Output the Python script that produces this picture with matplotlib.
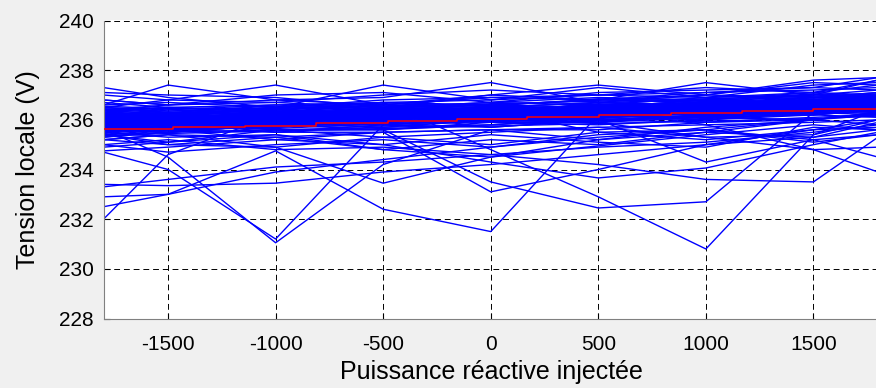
import matplotlib
matplotlib.use("Agg")
import matplotlib.pyplot as plt

plt.rcParams['font.family'] = ['Liberation Sans', 'DejaVu Sans']
plt.rcParams['axes.unicode_minus'] = False

# injected reactive power at each measurement point
x_pts = [-1800, -1500, -1000, -500, 0, 500, 1000, 1500, 1800]

# main band of voltage curves
band = [
    [235.9, 236.0, 236.1, 236.0, 236.2, 236.3, 236.4, 236.5, 236.6],
    [236.2, 236.1, 236.3, 236.2, 236.4, 236.5, 236.5, 236.7, 236.8],
    [235.6, 235.8, 235.7, 235.9, 236.0, 236.1, 236.3, 236.2, 236.4],
    [236.4, 236.5, 236.3, 236.6, 236.5, 236.7, 236.8, 236.9, 237.0],
    [235.8, 235.6, 235.9, 236.1, 235.9, 236.2, 236.1, 236.4, 236.5],
    [236.0, 236.3, 236.2, 236.4, 236.3, 236.4, 236.6, 236.6, 236.9],
    [235.5, 235.7, 235.9, 235.8, 236.1, 236.0, 236.2, 236.4, 236.3],
    [236.3, 236.2, 236.5, 236.4, 236.6, 236.8, 236.7, 236.9, 237.1],
    [236.1, 235.9, 236.0, 236.3, 236.2, 236.3, 236.5, 236.7, 236.6],
    [235.7, 235.9, 235.8, 236.0, 236.2, 236.4, 236.3, 236.5, 236.7],
    [236.5, 236.4, 236.6, 236.5, 236.7, 236.6, 236.9, 237.0, 237.2],
    [235.4, 235.6, 235.5, 235.8, 235.7, 236.0, 235.9, 236.1, 236.2],
    [236.6, 236.7, 236.5, 236.8, 236.9, 237.0, 237.1, 237.2, 237.3],
    [235.9, 236.1, 236.2, 236.1, 236.4, 236.2, 236.6, 236.5, 236.8],
    [236.2, 236.0, 236.4, 236.6, 236.4, 236.6, 236.7, 236.8, 236.9],
    [235.6, 235.5, 235.8, 235.9, 236.0, 235.9, 236.2, 236.3, 236.5],
    [236.0, 236.2, 236.0, 236.2, 236.1, 236.5, 236.4, 236.6, 236.7],
    [235.3, 235.5, 235.6, 235.6, 235.9, 235.8, 236.0, 236.2, 236.1],
    [236.4, 236.6, 236.7, 236.5, 236.7, 236.9, 236.8, 237.1, 237.0],
    [235.8, 235.7, 236.0, 235.9, 236.1, 236.3, 236.2, 236.4, 236.6],
    [236.1, 236.4, 236.3, 236.5, 236.6, 236.5, 236.8, 236.7, 237.0],
    [235.5, 235.8, 235.6, 235.7, 235.8, 236.1, 236.0, 236.3, 236.2],
    [236.3, 236.1, 236.2, 236.4, 236.5, 236.4, 236.6, 236.8, 236.8],
    [235.9, 235.8, 236.1, 236.2, 236.0, 236.3, 236.4, 236.3, 236.6],
    [236.7, 236.5, 236.6, 236.7, 236.8, 237.0, 236.9, 237.1, 237.4],
    [235.2, 235.4, 235.3, 235.5, 235.6, 235.7, 235.8, 235.9, 236.0],
    [236.0, 235.8, 236.1, 236.0, 236.3, 236.2, 236.5, 236.4, 236.5],
    [236.2, 236.3, 236.4, 236.3, 236.2, 236.6, 236.5, 236.6, 236.8],
    [235.7, 235.6, 235.7, 236.0, 235.9, 235.9, 236.1, 236.2, 236.4],
    [236.5, 236.3, 236.5, 236.7, 236.6, 236.8, 237.0, 236.9, 237.1],
    [235.8, 236.0, 235.9, 235.7, 236.0, 236.1, 236.3, 236.5, 236.3],
    [236.1, 236.2, 236.1, 236.3, 236.5, 236.7, 236.6, 236.8, 237.0],
    [235.6, 235.9, 236.0, 236.1, 236.2, 236.2, 236.4, 236.4, 236.6],
    [236.4, 236.3, 236.2, 236.5, 236.4, 236.5, 236.7, 237.0, 236.9],
    [235.4, 235.5, 235.8, 235.6, 235.8, 236.0, 236.1, 236.0, 236.3],
    [236.8, 236.6, 236.8, 236.6, 237.0, 236.8, 237.1, 237.3, 237.2],
    [235.8, 236.1, 236.0, 236.2, 236.3, 236.3, 236.5, 236.6, 236.6],
    [236.1, 235.9, 236.2, 236.1, 236.4, 236.5, 236.4, 236.7, 236.9],
    [235.7, 235.9, 236.1, 236.3, 236.2, 236.4, 236.6, 236.5, 236.7],
    [236.3, 236.0, 236.0, 236.3, 236.5, 236.3, 236.7, 236.8, 236.6],
    [235.9, 236.2, 236.3, 236.1, 236.3, 236.6, 236.4, 236.6, 236.8],
    [236.0, 235.8, 236.1, 236.4, 236.2, 236.5, 236.6, 236.9, 236.7],
    [235.6, 235.9, 235.9, 236.0, 236.4, 236.2, 236.5, 236.6, 236.9],
    [236.2, 236.3, 236.0, 236.2, 236.3, 236.6, 236.5, 236.7, 236.6],
    [235.8, 236.0, 236.3, 236.2, 236.1, 236.4, 236.7, 236.5, 236.8],
    [236.1, 236.1, 235.9, 236.4, 236.4, 236.3, 236.5, 236.8, 236.7],
    [235.9, 235.7, 236.2, 236.0, 236.5, 236.5, 236.3, 236.6, 236.9],
    [236.3, 236.2, 236.4, 236.3, 236.2, 236.7, 236.6, 236.7, 236.6],
    [235.7, 236.1, 236.0, 236.3, 236.3, 236.2, 236.6, 236.9, 236.8],
    [236.0, 236.0, 236.2, 236.1, 236.6, 236.4, 236.5, 236.5, 236.7],
    [235.8, 235.8, 236.1, 236.5, 236.3, 236.5, 236.8, 236.6, 236.9],
    [236.2, 236.1, 235.8, 236.2, 236.4, 236.6, 236.4, 236.8, 236.7],
    [235.6, 236.0, 236.2, 236.0, 236.2, 236.3, 236.7, 236.7, 236.5],
    [236.1, 235.8, 236.0, 236.3, 236.5, 236.4, 236.6, 236.6, 236.8],
    [235.9, 236.2, 236.1, 236.2, 236.1, 236.6, 236.5, 236.9, 236.9],
    [236.4, 236.0, 236.3, 236.4, 236.3, 236.5, 236.7, 236.7, 236.6],
    [235.5, 235.7, 235.8, 236.0, 236.1, 236.0, 236.2, 236.3, 236.4],
    [235.6, 235.6, 235.9, 235.8, 236.0, 236.2, 236.1, 236.4, 236.3],
    [235.5, 235.8, 235.7, 236.0, 235.9, 236.1, 236.3, 236.2, 236.5],
    [235.7, 235.5, 235.8, 235.9, 236.1, 235.9, 236.2, 236.4, 236.3],
    [235.65, 235.85, 235.95, 236.05, 236.15, 236.25, 236.35, 236.55, 236.65],
    [235.95, 236.15, 236.05, 236.25, 236.35, 236.45, 236.55, 236.65, 236.75],
    [236.25, 236.05, 236.15, 236.35, 236.25, 236.55, 236.45, 236.75, 236.85],
    [235.75, 235.65, 235.85, 236.15, 236.05, 236.35, 236.25, 236.45, 236.55],
    [236.05, 236.25, 236.35, 236.15, 236.45, 236.35, 236.65, 236.55, 236.95],
    [235.55, 235.75, 236.05, 235.95, 236.25, 236.15, 236.45, 236.35, 236.45],
    [236.35, 236.25, 236.05, 236.45, 236.35, 236.65, 236.55, 236.85, 236.75],
    [235.85, 236.05, 235.75, 236.05, 236.15, 236.05, 236.35, 236.65, 236.45],
    [236.15, 235.95, 236.25, 236.25, 236.55, 236.45, 236.75, 236.65, 236.85],
    [235.45, 235.65, 235.65, 235.85, 235.95, 236.15, 236.15, 236.35, 236.25],
    [236.45, 236.35, 236.55, 236.45, 236.65, 236.75, 236.85, 236.95, 237.05],
    [235.65, 235.95, 235.85, 235.95, 236.05, 236.25, 236.05, 236.25, 236.55],
    [236.05, 235.85, 236.15, 236.35, 236.15, 236.45, 236.55, 236.45, 236.65],
    [235.75, 236.05, 236.15, 235.85, 236.25, 236.05, 236.35, 236.55, 236.35],
    [236.25, 236.15, 236.35, 236.55, 236.45, 236.35, 236.65, 236.75, 236.95],
    [235.55, 235.55, 235.75, 235.75, 235.95, 235.95, 236.15, 236.25, 236.45],
    [235.95, 235.75, 235.95, 236.15, 236.35, 236.15, 236.45, 236.35, 236.75],
    [236.15, 236.25, 236.25, 236.05, 236.25, 236.55, 236.35, 236.65, 236.65],
    [235.85, 235.95, 236.15, 236.25, 236.05, 236.35, 236.65, 236.45, 236.55],
    [235.35, 235.45, 235.55, 235.65, 235.75, 235.85, 235.95, 236.05, 236.15],
    [236.55, 236.45, 236.45, 236.65, 236.55, 236.85, 236.75, 237.05, 236.95],
    [235.75, 235.85, 235.95, 236.25, 236.35, 236.45, 236.25, 236.55, 236.65],
]

# curves above the band
upper = [
    [236.6, 237.4, 236.8, 236.9, 237.5, 236.7, 237.0, 237.6, 237.7],
    [237.0, 236.8, 237.4, 236.6, 236.9, 236.8, 237.5, 237.0, 237.6],
    [237.3, 236.9, 236.5, 237.4, 236.8, 237.3, 236.9, 237.4, 237.5],
    [236.5, 236.8, 236.7, 237.0, 237.2, 237.0, 237.3, 237.1, 237.6],
    [237.1, 237.0, 236.9, 236.5, 237.0, 237.4, 237.0, 237.5, 237.4],
    [236.8, 236.6, 237.0, 237.1, 236.7, 237.1, 237.2, 237.3, 237.7],
]

# curves just below the band
lower = [
    [235.2, 235.4, 234.9, 235.3, 235.0, 235.5, 235.2, 235.6, 235.7],
    [234.9, 235.1, 235.4, 234.8, 235.2, 235.0, 235.5, 235.3, 235.9],
    [235.0, 234.7, 235.0, 235.2, 234.9, 235.4, 235.6, 235.1, 235.4],
    [234.75, 234.9, 235.2, 235.0, 235.4, 235.1, 234.9, 235.7, 235.6],
    [235.4, 235.1, 235.6, 235.3, 235.5, 235.7, 235.3, 235.4, 236.0],
    [235.3, 235.6, 235.2, 235.5, 235.6, 235.2, 235.7, 236.0, 235.8],
]

# curves with strong dips
dips = [
    [232.0, 234.6, 236.2, 236.0, 236.3, 236.1, 236.4, 236.6, 236.5],
    [232.5, 233.0, 234.75, 232.4, 231.5, 236.2, 236.0, 236.4, 236.6],
    [235.4, 235.0, 234.9, 233.45, 234.5, 235.2, 235.5, 236.0, 236.3],
    [235.8, 236.0, 235.6, 235.6, 233.5, 232.45, 232.7, 236.3, 236.5],
    [236.2, 235.9, 235.5, 235.5, 233.1, 234.0, 235.0, 235.6, 236.0],
    [235.5, 235.3, 235.4, 235.0, 234.3, 233.66, 234.06, 235.0, 235.5],
    [235.2, 235.0, 235.3, 234.8, 234.5, 234.95, 235.4, 235.8, 235.6],
    [236.3, 236.5, 236.4, 236.7, 234.8, 232.9, 230.8, 235.4, 236.4],
    [235.0, 235.2, 234.8, 234.9, 234.6, 234.2, 233.6, 233.5, 235.3],
    [236.0, 236.2, 235.9, 236.3, 236.1, 236.4, 235.8, 234.8, 233.9],
    [233.4, 233.35, 233.45, 233.9, 234.2, 234.6, 235.0, 235.3, 235.6],
    [233.3, 233.6, 234.1, 234.3, 234.6, 234.9, 235.1, 235.5, 235.8],
    [232.9, 233.0, 233.9, 234.4, 234.9, 235.3, 235.6, 236.0, 236.2],
    [234.7, 234.0, 231.2, 235.8, 236.0, 236.2, 236.1, 236.4, 236.6],
    [235.6, 234.5, 231.05, 234.2, 235.6, 235.6, 235.9, 236.0, 236.3],
    [236.1, 235.9, 236.2, 236.0, 236.3, 235.9, 235.3, 234.8, 234.9],
    [235.9, 236.1, 235.8, 236.2, 235.7, 236.0, 234.3, 235.2, 235.4],
    [236.4, 236.2, 236.5, 236.0, 236.4, 235.5, 235.6, 235.2, 234.5],
]

# mean curve (red staircase)
mean_x = [-1800, -1477, -1141, -810, -478, -156, 170, 501, 837, 1168, 1500, 1800]
mean_y = [235.65, 235.72, 235.77, 235.86, 235.94, 236.03, 236.12, 236.2, 236.28,
          236.35, 236.44, 236.44]

fig = plt.figure(figsize=(8.76, 3.88), dpi=100, facecolor='#f0f0f0')
ax = fig.add_axes([103.5 / 876, 1 - 318.5 / 388, 774.5 / 876, 298 / 388])

for curve in dips + lower + upper + band:
    ax.plot(x_pts, curve, color='#0000ff', lw=1.0, zorder=2)

ax.plot(mean_x, mean_y, color='#ff0000', lw=1.1, drawstyle='steps-post',
        zorder=5)

ax.set_xlim(-1800, 1800)
ax.set_ylim(228, 240)
ax.set_xticks([-1500, -1000, -500, 0, 500, 1000, 1500])
ax.set_yticks([228, 230, 232, 234, 236, 238, 240])
ax.grid(True, color='k', lw=0.7, linestyle=(0, (6, 4)))
ax.tick_params(axis='both', direction='in', length=4, labelsize=15, color='k')
ax.tick_params(axis='x', pad=12)
ax.tick_params(axis='y', pad=7)
for side in ['top', 'right']:
    ax.spines[side].set_visible(False)
for side in ['left', 'bottom']:
    ax.spines[side].set_color('#808080')

ax.set_xlabel('Puissance réactive injectée', fontsize=18)
ax.set_ylabel('Tension locale (V)', fontsize=18)
ax.xaxis.set_label_coords((491 - 103.5) / 774.5, -(372 - 318.5) / 298)
ax.yaxis.set_label_coords(-(103.5 - 28) / 774.5, 0.5)
ax.xaxis.label.set_va('center')
ax.yaxis.label.set_va('center')

fig.savefig('out.png', dpi=100, facecolor=fig.get_facecolor())
